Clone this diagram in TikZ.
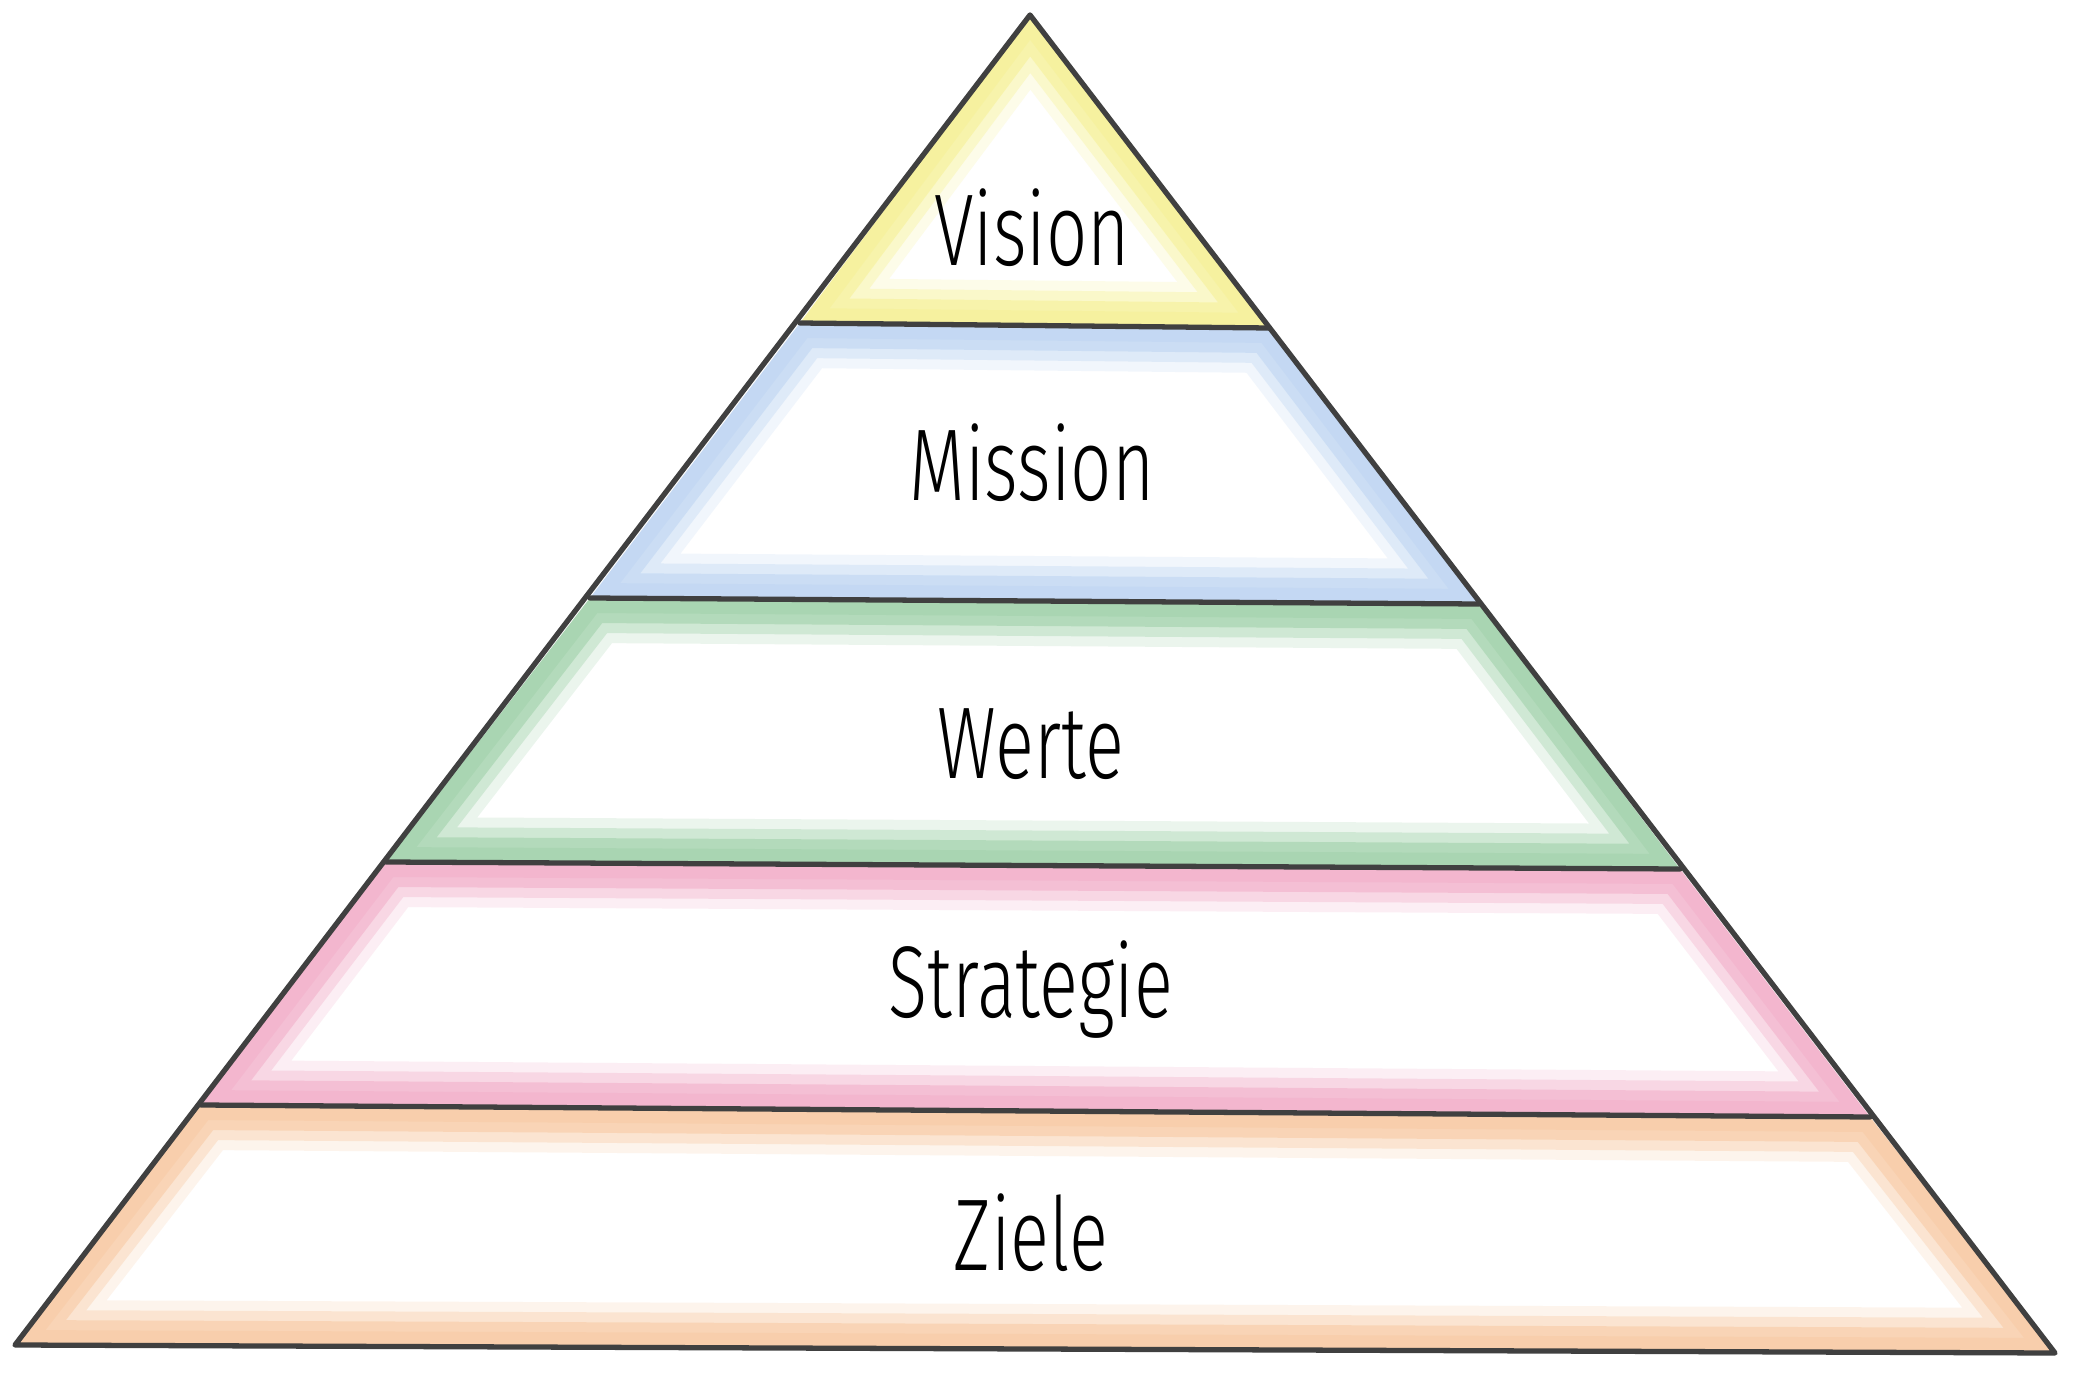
\documentclass[tikz,border=0pt]{standalone}
\usepackage{fontspec}
\setmainfont{Fira Sans Light}
\definecolor{visioncol}{HTML}{F2E850}
\definecolor{missioncol}{HTML}{93BAEC}
\definecolor{wertecol}{HTML}{62B472}
\definecolor{strategiecol}{HTML}{EC7BA6}
\definecolor{zielecol}{HTML}{F4A868}
\tikzset{
  edge/.style={draw=black!75, line width=1.5pt, line join=round, line cap=round},
  tier/.style={font=\fontsize{29}{31}\selectfont, xscale=0.71, inner sep=0pt}
}
\begin{document}
\begin{tikzpicture}[x=0.01cm, y=-0.01cm]
  \useasboundingbox[fill=white] (0,0) rectangle (2075,1373);
  % corners of the pyramid and the ends of the dividing lines
  \coordinate (apex) at (1030,15);
  \coordinate (d1l) at (800,323);   \coordinate (d1r) at (1269,328);
  \coordinate (d2l) at (590,598);   \coordinate (d2r) at (1479,604);
  \coordinate (d3l) at (386,862);   \coordinate (d3r) at (1680,869);
  \coordinate (d4l) at (201,1105);  \coordinate (d4r) at (1870,1117);
  \coordinate (bl) at (15,1345);    \coordinate (br) at (2055,1353);
  % soft coloured band inside each tier
  \foreach \a/\b/\c/\d/\col in {apex/apex/d1r/d1l/visioncol, d1l/d1r/d2r/d2l/missioncol,
      d2l/d2r/d3r/d3l/wertecol, d3l/d3r/d4r/d4l/strategiecol, d4l/d4r/br/bl/zielecol} {
    \begin{scope}
      \clip (\a) -- (\b) -- (\c) -- (\d) -- cycle;
      \foreach \w/\o in {90/0.12, 70/0.2, 50/0.25, 30/0.12}
        \draw[\col, opacity=\o, line width=\w*0.01cm, line join=round] (\a) -- (\b) -- (\c) -- (\d) -- cycle;
    \end{scope}
  }
  % outline
  \draw[edge] (apex) -- (br) -- (bl) -- cycle;
  \draw[edge] (d1l) -- (d1r);
  \draw[edge] (d2l) -- (d2r);
  \draw[edge] (d3l) -- (d3r);
  \draw[edge] (d4l) -- (d4r);
  % labels
  \node[tier] (vision) at (1032,228) {Vision};
  \node[tier] (mission) at (1032,463) {Mission};
  \node[tier] (werte) at (1031,744) {Werte};
  \node[tier] (strategie) at (1031,990) {Strategie};
  \node[tier] (ziele) at (1031,1233) {Ziele};
\end{tikzpicture}
\end{document}
